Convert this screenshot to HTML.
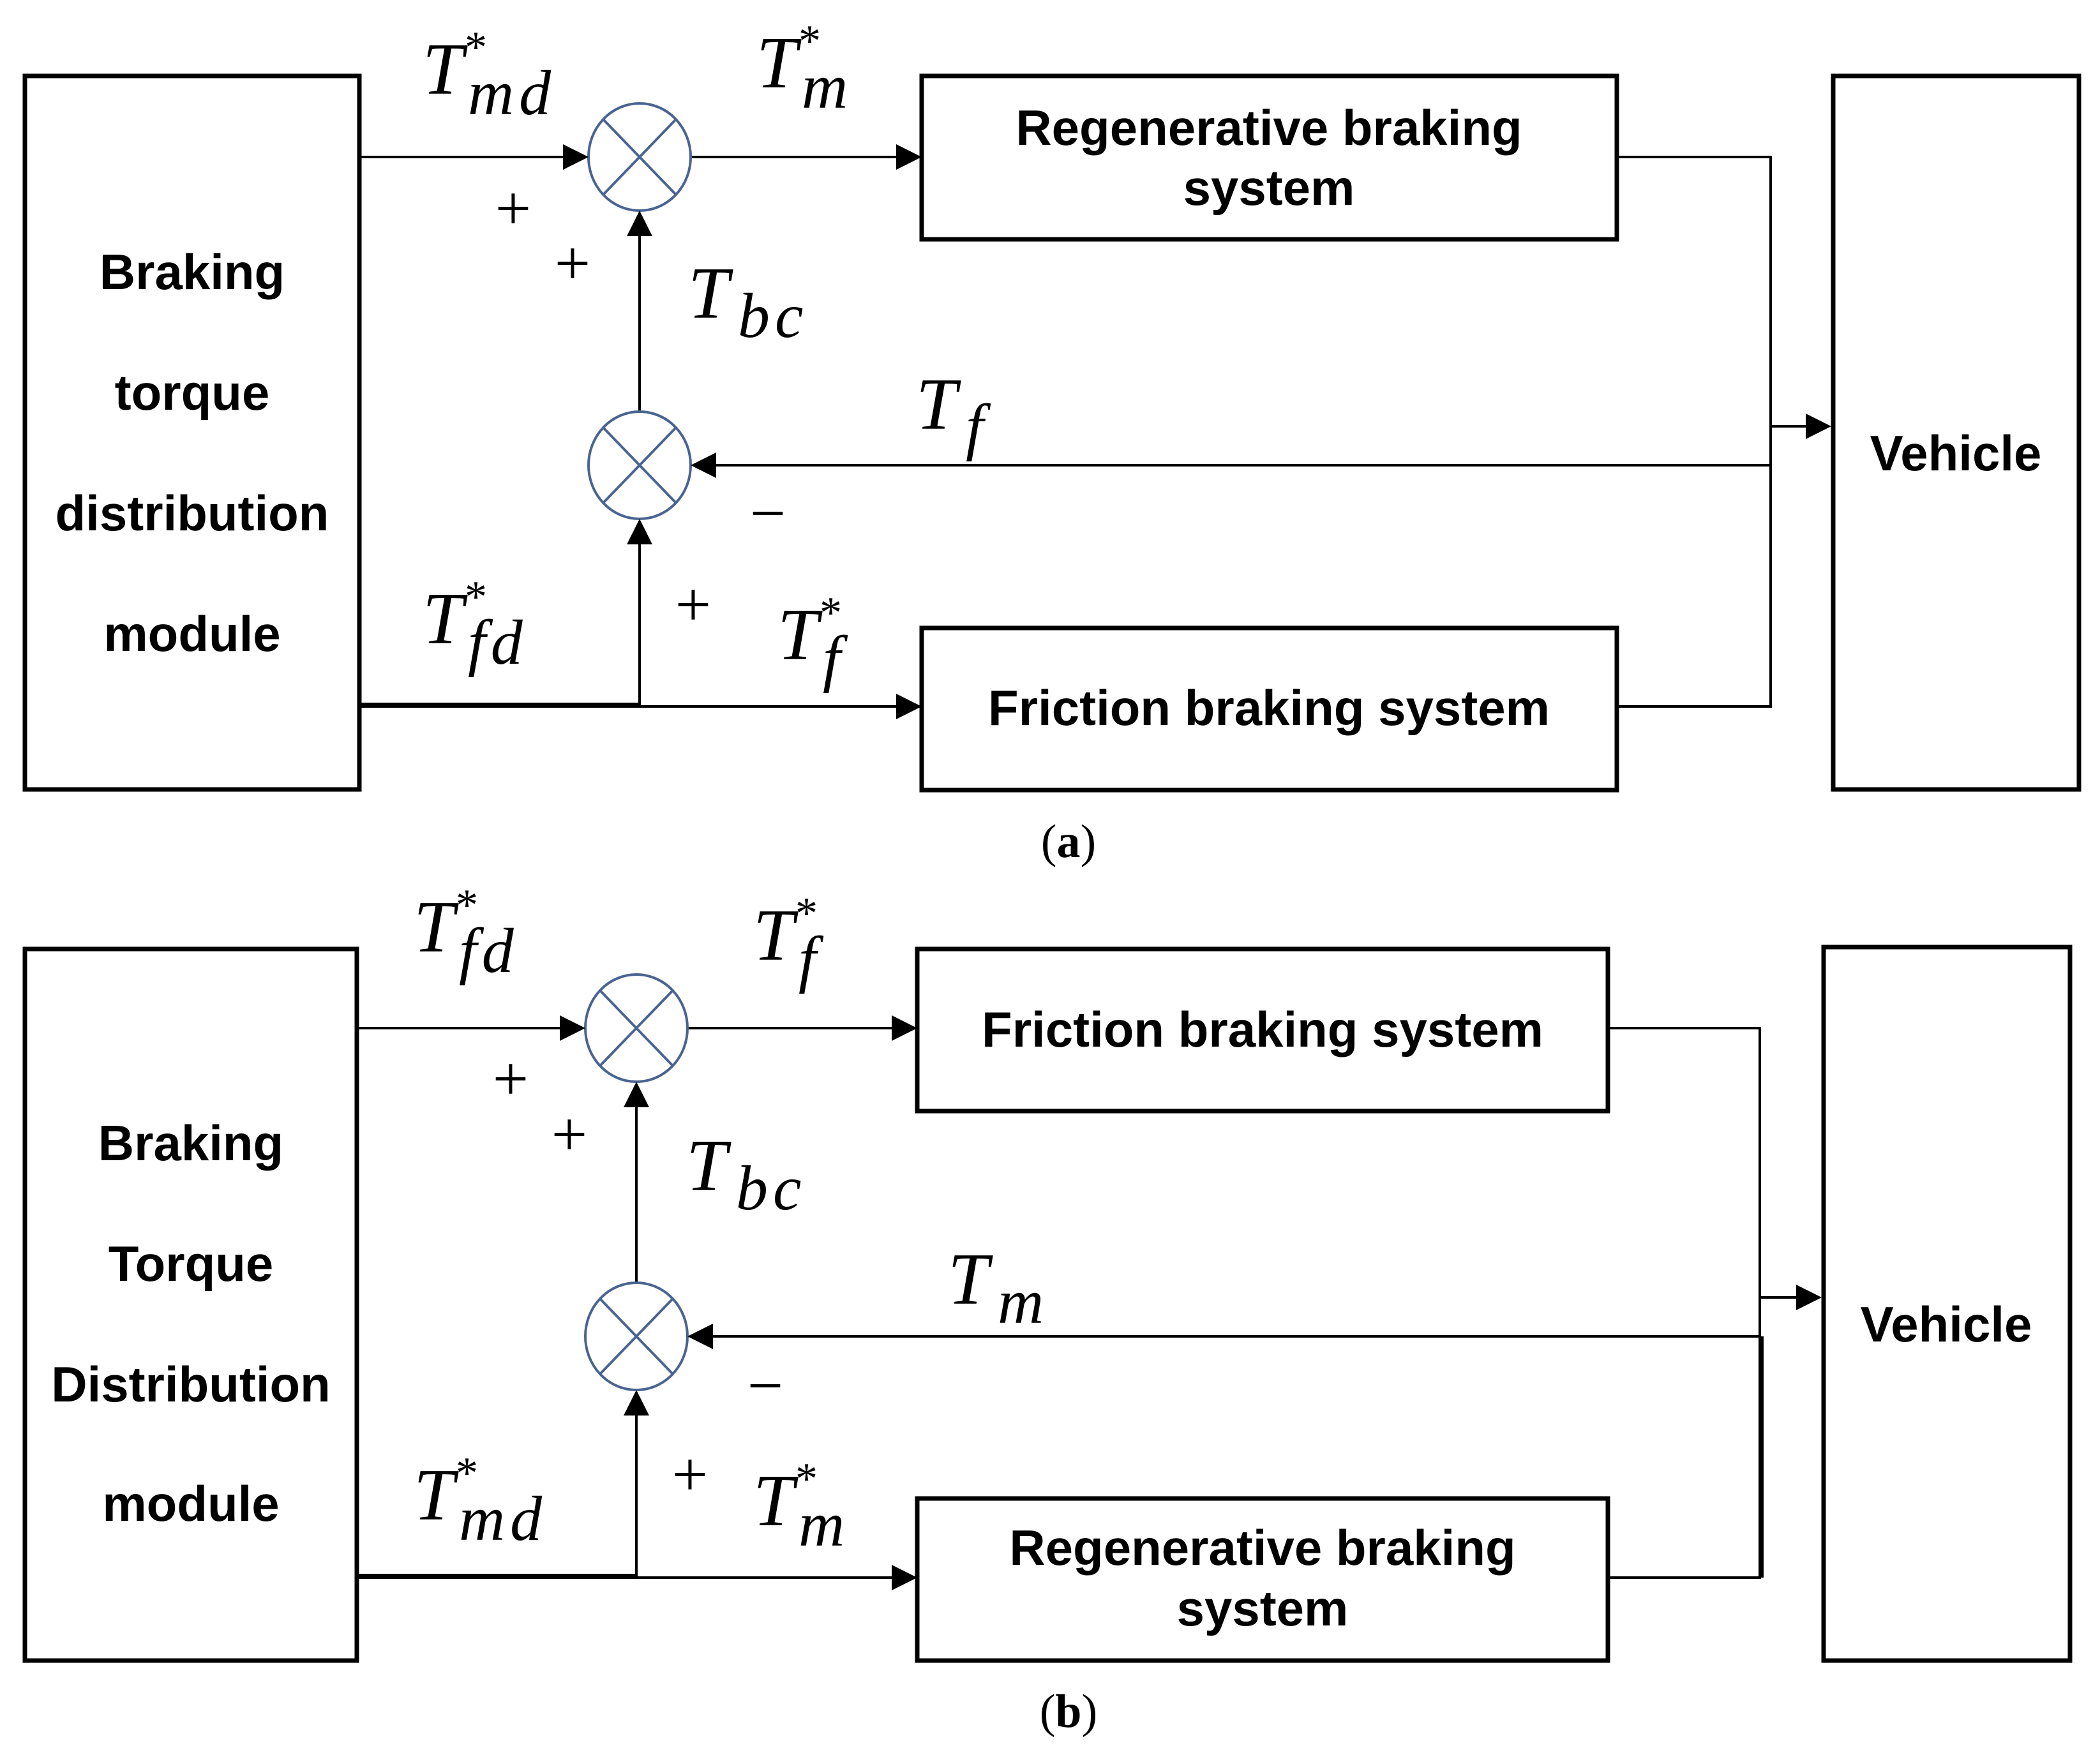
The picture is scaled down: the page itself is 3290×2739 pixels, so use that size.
<!DOCTYPE html>
<html><head><meta charset="utf-8"><style>
html,body{margin:0;padding:0;background:#fff}
svg{display:block}
.b{font-family:"Liberation Sans",sans-serif;font-weight:bold;font-size:78px;fill:#000;text-anchor:middle;dominant-baseline:central}
.m{font-family:"Liberation Serif",serif;font-style:italic;font-size:115px;fill:#000}
.s{font-family:"Liberation Serif",serif;font-size:100px;fill:#000;text-anchor:middle;dominant-baseline:central}
.u{font-size:100px;letter-spacing:8px}
</style></head><body>
<svg width="3290" height="2739" viewBox="0 0 3290 2739" xmlns="http://www.w3.org/2000/svg">
<g fill="none" stroke="#000">
<rect x="39" y="119" width="524" height="1118" stroke-width="7"/>
<rect x="1444" y="119" width="1089" height="256" stroke-width="7"/>
<rect x="1444" y="984" width="1089" height="254" stroke-width="7"/>
<rect x="2872" y="119" width="385" height="1118" stroke-width="7"/>
<g stroke-width="4">
<line x1="565" y1="246" x2="885" y2="246"/>
<line x1="1082" y1="246" x2="1405" y2="246"/>
<polyline points="2535,246 2774,246 2774,1107 2535,1107"/>
<line x1="2774" y1="668" x2="2832" y2="668"/>
<line x1="2774" y1="729" x2="1120" y2="729"/>
<line x1="565" y1="1107" x2="1405" y2="1107" />
<line x1="565" y1="1104" x2="1002" y2="1104" stroke-width="6"/>
<line x1="1002" y1="1107" x2="1002" y2="850"/>
<line x1="1002" y1="645" x2="1002" y2="368"/>
</g>
<g stroke="#4a6491" stroke-width="4">
<ellipse cx="1002" cy="246" rx="80" ry="84"/>
<line x1="945" y1="187" x2="1059" y2="305"/><line x1="1059" y1="187" x2="945" y2="305"/>
<ellipse cx="1002" cy="729" rx="80" ry="84"/>
<line x1="945" y1="670" x2="1059" y2="788"/><line x1="1059" y1="670" x2="945" y2="788"/>
</g>
<rect x="39" y="1487" width="520" height="1115" stroke-width="7"/>
<rect x="1437" y="1487" width="1082" height="254" stroke-width="7"/>
<rect x="1437" y="2348" width="1082" height="254" stroke-width="7"/>
<rect x="2857" y="1484" width="386" height="1118" stroke-width="7"/>
<g stroke-width="4">
<line x1="561" y1="1611" x2="880" y2="1611"/>
<line x1="1077" y1="1611" x2="1398" y2="1611"/>
<polyline points="2519,1611 2757,1611 2757,2472 2519,2472"/>
<line x1="2760" y1="2094" x2="2760" y2="2472" stroke-width="6"/>
<line x1="2757" y1="2033" x2="2817" y2="2033"/>
<line x1="2757" y1="2094" x2="1115" y2="2094"/>
<line x1="561" y1="2472" x2="1398" y2="2472"/>
<line x1="561" y1="2469" x2="997" y2="2469" stroke-width="6"/>
<line x1="997" y1="2472" x2="997" y2="2215"/>
<line x1="997" y1="2010" x2="997" y2="1733"/>
</g>
<g stroke="#4a6491" stroke-width="4">
<ellipse cx="997" cy="1611" rx="80" ry="84"/>
<line x1="940" y1="1552" x2="1054" y2="1670"/><line x1="1054" y1="1552" x2="940" y2="1670"/>
<ellipse cx="997" cy="2094" rx="80" ry="84"/>
<line x1="940" y1="2035" x2="1054" y2="2153"/><line x1="1054" y1="2035" x2="940" y2="2153"/>
</g>
</g>
<g fill="#000">
<polygon points="922,246 882,226 882,266"/>
<polygon points="1444,246 1404,226 1404,266"/>
<polygon points="2869,668 2829,648 2829,688"/>
<polygon points="1082,729 1122,709 1122,749"/>
<polygon points="1444,1107 1404,1087 1404,1127"/>
<polygon points="1002,813 982,853 1022,853"/>
<polygon points="1002,330 982,370 1022,370"/>
<polygon points="917,1611 877,1591 877,1631"/>
<polygon points="1437,1611 1397,1591 1397,1631"/>
<polygon points="2854,2033 2814,2013 2814,2053"/>
<polygon points="1077,2094 1117,2074 1117,2114"/>
<polygon points="1437,2472 1397,2452 1397,2492"/>
<polygon points="997,2178 977,2218 1017,2218"/>
<polygon points="997,1695 977,1735 1017,1735"/>
</g>
<text class="b" x="301" y="426">Braking</text>
<text class="b" x="301" y="615">torque</text>
<text class="b" x="301" y="804">distribution</text>
<text class="b" x="301" y="993">module</text>
<text class="b" x="1988" y="200">Regenerative braking</text>
<text class="b" x="1988" y="294">system</text>
<text class="b" x="1988" y="1109">Friction braking system</text>
<text class="b" x="3064" y="710">Vehicle</text>
<text class="s" x="804" y="326">+</text>
<text class="s" x="897" y="412">+</text>
<text class="s" x="1203" y="804">−</text>
<text class="s" x="1086" y="947">+</text>
<text class="m" x="662" y="147">T<tspan font-style="normal" font-size="70" dx="2" dy="-50">*</tspan><tspan class="u" dx="-30" dy="82">md</tspan></text>
<text class="m" x="1185" y="137">T<tspan font-style="normal" font-size="70" dx="2" dy="-50">*</tspan><tspan class="u" dx="-30" dy="82">m</tspan></text>
<text class="m" x="1078" y="498">T<tspan class="u" dx="14" dy="30">bc</tspan></text>
<text class="m" x="1435" y="672">T<tspan class="u" dx="14" dy="30">f</tspan></text>
<text class="m" x="662" y="1008">T<tspan font-style="normal" font-size="70" dx="2" dy="-50">*</tspan><tspan class="u" dx="-30" dy="82">fd</tspan></text>
<text class="m" x="1218" y="1033">T<tspan font-style="normal" font-size="70" dx="2" dy="-50">*</tspan><tspan class="u" dx="-30" dy="82">f</tspan></text>
<text x="1674" y="1319" font-family="Liberation Serif,serif" font-size="74" text-anchor="middle" dominant-baseline="central">(<tspan font-weight="bold">a</tspan>)</text>
<text class="b" x="299" y="1791">Braking</text>
<text class="b" x="299" y="1980">Torque</text>
<text class="b" x="299" y="2169">Distribution</text>
<text class="b" x="299" y="2356">module</text>
<text class="b" x="1978" y="1613">Friction braking system</text>
<text class="b" x="1978" y="2425">Regenerative braking</text>
<text class="b" x="1978" y="2520">system</text>
<text class="b" x="3049" y="2075">Vehicle</text>
<text class="s" x="800" y="1690">+</text>
<text class="s" x="892" y="1777">+</text>
<text class="s" x="1199" y="2171">−</text>
<text class="s" x="1081" y="2310">+</text>
<text class="m" x="648" y="1491">T<tspan font-style="normal" font-size="70" dx="2" dy="-50">*</tspan><tspan class="u" dx="-30" dy="82">fd</tspan></text>
<text class="m" x="1180" y="1504">T<tspan font-style="normal" font-size="70" dx="2" dy="-50">*</tspan><tspan class="u" dx="-30" dy="82">f</tspan></text>
<text class="m" x="1075" y="1865">T<tspan class="u" dx="14" dy="30">bc</tspan></text>
<text class="m" x="1485" y="2043">T<tspan class="u" dx="14" dy="30">m</tspan></text>
<text class="m" x="648" y="2381">T<tspan font-style="normal" font-size="70" dx="2" dy="-50">*</tspan><tspan class="u" dx="-30" dy="82">md</tspan></text>
<text class="m" x="1180" y="2390">T<tspan font-style="normal" font-size="70" dx="2" dy="-50">*</tspan><tspan class="u" dx="-30" dy="82">m</tspan></text>
<text x="1674" y="2682" font-family="Liberation Serif,serif" font-size="74" text-anchor="middle" dominant-baseline="central">(<tspan font-weight="bold">b</tspan>)</text>
</svg>
</body></html>
